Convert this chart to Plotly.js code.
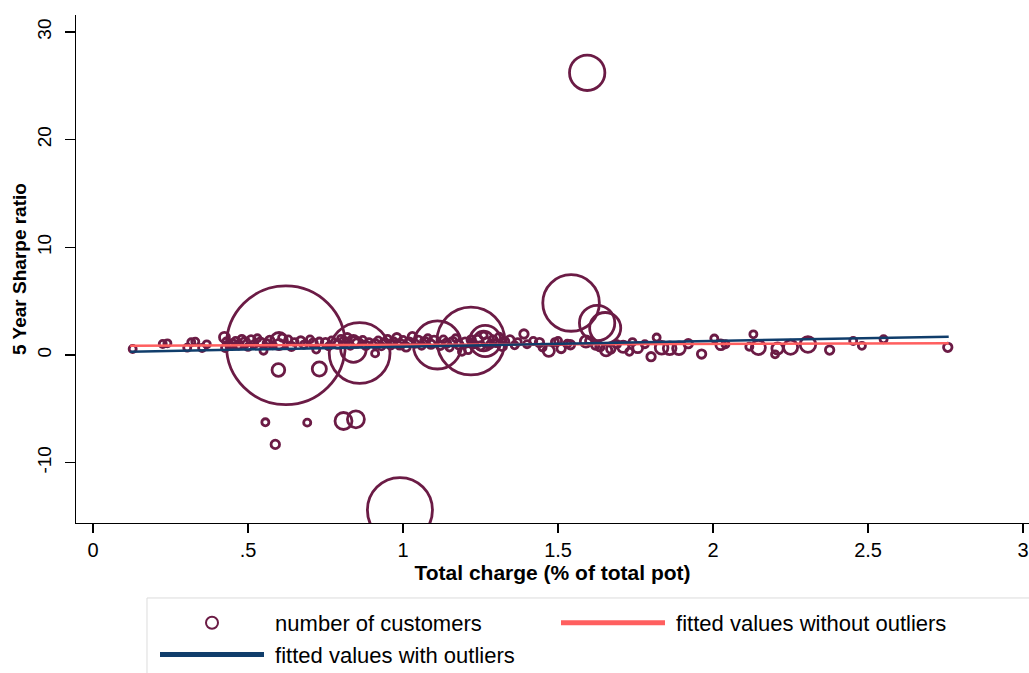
<!DOCTYPE html>
<html>
<head>
<meta charset="utf-8">
<script src="https://cdn.plot.ly/plotly-3.0.1.min.js"></script>
<style>
html,body{margin:0;padding:0;background:#fff;}
#chart{width:1029px;height:673px;}
</style>
</head>
<body>
<div id="chart"></div>
<script>
// Total charge (% of total pot)
const charge = [
  0.128,0.225,0.24,0.304,0.317,0.33,0.352,0.367,0.424,0.426,
  0.43,0.44,0.45,0.46,0.47,0.48,0.49,0.50,0.51,0.52,0.53,0.54,0.55,0.56,0.57,0.58,
  0.60,0.60,0.61,0.63,0.64,0.65,0.67,0.68,0.70,0.71,0.72,0.73,0.75,0.76,0.77,0.79,
  0.80,0.81,0.82,0.83,0.84,0.85,0.87,0.88,0.89,0.91,0.91,0.92,0.93,0.94,0.95,0.96,
  0.97,0.98,0.99,1.00,1.01,1.02,1.03,1.04,1.05,1.06,1.07,1.08,1.09,1.10,1.12,1.13,
  1.14,1.15,1.16,1.17,1.18,1.19,1.20,1.21,1.22,1.23,1.24,1.25,1.26,1.27,1.28,1.29,
  1.30,1.31,1.32,1.33,1.345,1.36,1.37,1.39,1.40,1.42,1.44,1.45,1.47,1.49,1.50,1.51,
  1.53,1.54,1.59,1.60,1.62,1.635,1.655,1.67,1.69,1.71,1.73,1.74,1.757,1.78,1.80,1.818,
  1.834,1.86,1.89,1.92,1.963,2.004,2.025,2.04,2.117,2.13,2.146,2.2,2.208,2.25,2.306,
  2.376,2.452,2.48,2.55,2.757,
  0.622,0.598,0.73,0.556,0.691,0.808,0.848,0.588,0.86,0.84,1.111,1.219,1.265,1.26,
  0.99,1.542,1.626,1.652,1.594
];
// 5 Year Sharpe ratio
const sharpe = [
  0.56,1.02,1.08,0.68,1.18,1.24,0.65,0.99,1.64,0.65,
  1.25,0.85,1.05,1.3,0.95,1.5,1.15,0.75,1.4,1.0,1.55,1.2,0.4,1.1,1.35,0.9,
  1.3,1.0,1.6,1.45,0.8,1.2,1.3,0.95,1.45,1.1,0.5,1.25,1.15,0.8,1.35,1.0,
  1.5,1.2,1.6,0.85,1.3,1.1,1.4,0.9,1.2,0.15,1.05,1.35,0.8,1.15,1.5,0.95,
  1.25,1.6,1.0,1.4,0.75,1.2,1.7,1.05,1.35,0.85,1.25,1.55,1.0,1.3,0.9,1.45,
  1.1,0.7,1.25,1.55,0.95,0.3,1.2,0.45,1.4,1.0,1.3,0.85,1.8,1.15,0.95,1.4,
  1.1,1.7,0.8,1.25,1.4,0.9,1.2,1.95,1.0,1.3,1.15,0.7,0.4,1.2,1.3,0.6,
  1.05,0.95,1.25,1.3,0.85,0.77,0.45,0.55,1.0,0.77,0.3,1.2,0.68,1.0,-0.16,1.62,
  0.68,0.62,0.62,1.05,0.09,1.53,0.95,1.0,0.77,1.92,0.7,0.06,0.6,0.72,0.97,
  0.46,1.3,0.85,1.46,0.71,
  0.90,-1.4,-1.3,-6.25,-6.28,-6.13,-5.97,-8.3,0.19,0.5,0.93,1.30,1.3,1.3,
  -14.4,4.83,2.97,2.5,26.2
];
// number of customers (marker area)
const customers = [
  250,250,250,250,250,250,250,250,490,250,
  250,250,360,250,360,250,490,250,360,250,250,360,250,250,360,250,
  1440,490,250,250,360,250,360,250,250,360,250,250,360,250,250,360,
  250,490,360,250,640,360,250,360,250,250,360,250,250,360,250,360,
  250,360,490,250,360,360,360,250,360,250,360,250,360,490,360,250,
  360,250,360,250,360,250,360,250,360,250,640,360,250,490,250,360,
  250,250,360,250,360,250,250,360,250,250,360,250,640,250,250,360,
  250,360,640,250,250,360,640,360,250,640,250,250,490,250,360,250,
  810,810,810,360,360,250,490,250,250,250,1000,250,640,1000,1210,
  360,250,250,250,360,
  70560,810,1000,250,250,1440,1440,360,18490,3240,11560,23040,4840,1960,
  21160,16000,6250,4840,6250
];
// fitted lines
const fitX = [0.12, 2.76];
const fitNoOutliers = [0.86, 1.09];
const fitWithOutliers = [0.31, 1.70];

const xTickVals = [0, 0.5, 1, 1.5, 2, 2.5, 3];
const xTickText = ["0", ".5", "1", "1.5", "2", "2.5", "3"];
const yTickVals = [-10, 0, 10, 20, 30];
const yTickText = ["-10", "0", "10", "20", "30"];

const MAROON = '#6B1B45';
const RED = '#FF5F5F';
const NAVY = '#103D6B';
const FONT = 'Liberation Sans, Arial, Helvetica, sans-serif';
const NB = '\u00a0';

const traces = [
  {
    type: 'scatter', mode: 'markers', x: charge, y: sharpe,
    name: NB + 'number of customers',
    marker: {
      symbol: 'circle-open', color: MAROON, size: customers, opacity: 1,
      sizemode: 'area', sizeref: 10, sizemin: 1,
      line: {width: 2.8, color: MAROON}
    },
    hoverinfo: 'x+y'
  },
  {
    type: 'scatter', mode: 'lines', x: fitX, y: fitNoOutliers,
    name: NB + 'fitted values without outliers',
    line: {color: RED, width: 2.5}
  },
  {
    type: 'scatter', mode: 'lines', x: fitX, y: fitWithOutliers,
    name: NB + 'fitted values with outliers',
    line: {color: NAVY, width: 2.5}
  }
];

const layout = {
  width: 1029, height: 673,
  paper_bgcolor: '#fff', plot_bgcolor: '#fff',
  margin: {l: 76, r: 0, t: 15, b: 150, autoexpand: false},
  font: {family: FONT, color: '#000'},
  showlegend: true,
  xaxis: {
    range: [-0.0548, 3.019], tickvals: xTickVals, ticktext: xTickText,
    showline: true, linecolor: '#000', linewidth: 1.3, mirror: false,
    ticks: 'outside', ticklen: 9, tickwidth: 1.3, tickcolor: '#000',
    showgrid: false, zeroline: false, automargin: false,
    tickfont: {size: 20, family: FONT},
    title: {text: '<b>Total charge (% of total pot)</b>', font: {size: 21, family: FONT}, standoff: 5}
  },
  yaxis: {
    range: [-15.6, 31.57], tickvals: yTickVals, ticktext: yTickText,
    showline: true, linecolor: '#000', linewidth: 1.3,
    ticks: 'outside', ticklen: 10, tickwidth: 1.3, tickcolor: '#000',
    showgrid: false, zeroline: false, tickangle: -90, automargin: false,
    ticklabelstandoff: 6,
    tickfont: {size: 19, family: FONT},
    title: {text: '<b>5 Year Sharpe ratio</b>', font: {size: 19, family: FONT}, standoff: 2}
  },
  legend: {
    orientation: 'h', x: 0.0829, xanchor: 'left', y: -0.1555, yanchor: 'top',
    bgcolor: 'rgba(0,0,0,0)', borderwidth: 0,
    font: {size: 22, family: FONT, color: '#000'},
    entrywidth: 282, entrywidthmode: 'pixels', itemwidth: 104, itemsizing: 'constant'
  },
  shapes: [
    {type: 'rect', xref: 'paper', yref: 'paper', x0: 0.0745, x1: 1.02, y0: -0.1476, y1: -0.32,
     line: {color: '#dcdcdc', width: 1}, fillcolor: '#fff', layer: 'below'}
  ]
};

Plotly.newPlot('chart', traces, layout, {displayModeBar: false, staticPlot: true});
</script>
</body>
</html>
